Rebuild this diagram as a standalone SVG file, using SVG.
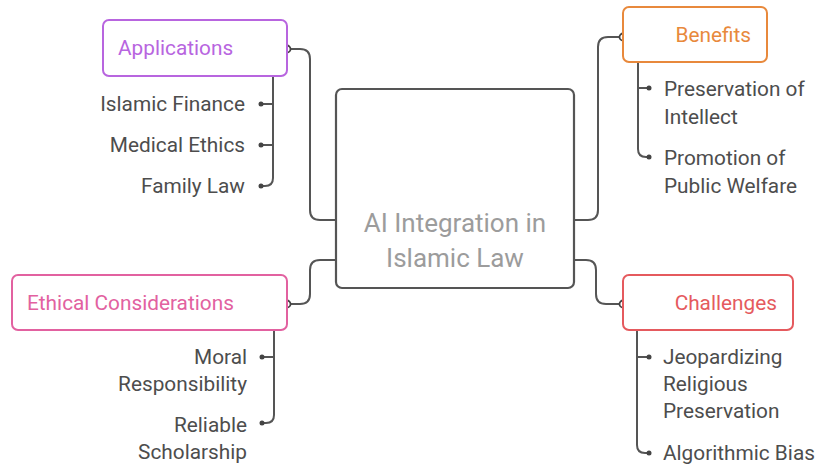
<svg xmlns="http://www.w3.org/2000/svg" width="818" height="466" viewBox="0 0 818 466">
  <style>
    text { font-family: Roboto, "Liberation Sans", sans-serif; font-size: 20.8px; }
    .box { fill: #ffffff; stroke-width: 2; }
    .item { fill: #4d4d4d; }
    .end { text-anchor: end; }
    .hubtext { font-size: 26px; fill: #9c9c9c; text-anchor: middle; }
    .line { fill: none; stroke: #555555; stroke-width: 2; }
    .port { fill: #ffffff; stroke: #444444; stroke-width: 1.8; }
    .tip { fill: #444444; }
  </style>

  <!-- connectors between the hub and each branch, and from each branch to its items -->
  <g id="connectors">
    <path class="line" d="M287,49 H300 Q310,49 310,59 V210 Q310,220 320,220 H336"/>
    <path class="line" d="M574,220 H588 Q598,220 598,210 V47 Q598,37 608,37 H623"/>
    <path class="line" d="M287,304 H300 Q310,304 310,294 V270 Q310,260 320,260 H336"/>
    <path class="line" d="M574,260 H586 Q596,260 596,270 V294 Q596,304 606,304 H623"/>

    <path class="line" d="M273,76 V178 Q273,186 265,186 H261 M273,104 H261 M273,145 H261"/>
    <path class="line" d="M638,62 V149 Q638,157 646,157 H649 M638,88 H649"/>
    <path class="line" d="M274,330 V415 Q274,423 266,423 H262 M274,357 H262"/>
    <path class="line" d="M637,330 V445 Q637,453 645,453 H649 M637,357 H649"/>

    <circle class="port" cx="287" cy="49" r="3.5"/>
    <circle class="port" cx="623" cy="37" r="3.5"/>
    <circle class="port" cx="287" cy="304" r="3.5"/>
    <circle class="port" cx="623" cy="304" r="3.5"/>

    <circle class="tip" cx="261" cy="104" r="2.5"/>
    <circle class="tip" cx="261" cy="145" r="2.5"/>
    <circle class="tip" cx="261" cy="186" r="2.5"/>
    <circle class="tip" cx="649" cy="88" r="2.5"/>
    <circle class="tip" cx="649" cy="157" r="2.5"/>
    <circle class="tip" cx="262" cy="357" r="2.5"/>
    <circle class="tip" cx="262" cy="423" r="2.5"/>
    <circle class="tip" cx="649" cy="357" r="2.5"/>
    <circle class="tip" cx="649" cy="453" r="2.5"/>
  </g>

  <!-- hub -->
  <g id="hub">
    <rect x="336" y="89" width="238" height="199" rx="6" fill="#ffffff" stroke="#555555" stroke-width="2.2"/>
    <text class="hubtext" x="455" y="232">AI Integration in</text>
    <text class="hubtext" x="455" y="267">Islamic Law</text>
  </g>

  <g id="applications">
    <rect class="box" x="103" y="20" width="184" height="56" rx="6" stroke="#b865df"/>
    <text x="118" y="55" fill="#b865df">Applications</text>
    <text class="item end" x="245" y="111">Islamic Finance</text>
    <text class="item end" x="245" y="152">Medical Ethics</text>
    <text class="item end" x="245" y="193">Family Law</text>
  </g>

  <g id="benefits">
    <rect class="box" x="623" y="7" width="144" height="55" rx="6" stroke="#e8893c"/>
    <text class="end" x="751" y="42" fill="#e8893c">Benefits</text>
    <text class="item" x="664" y="96">Preservation of</text>
    <text class="item" x="664" y="124">Intellect</text>
    <text class="item" x="664" y="165">Promotion of</text>
    <text class="item" x="664" y="193">Public Welfare</text>
  </g>

  <g id="ethical-considerations">
    <rect class="box" x="12" y="275" width="275" height="55" rx="6" stroke="#e261a0"/>
    <text x="27" y="310" fill="#e261a0">Ethical Considerations</text>
    <text class="item end" x="247" y="364">Moral</text>
    <text class="item end" x="247" y="391">Responsibility</text>
    <text class="item end" x="247" y="432">Reliable</text>
    <text class="item end" x="247" y="459">Scholarship</text>
  </g>

  <g id="challenges">
    <rect class="box" x="623" y="275" width="170" height="55" rx="6" stroke="#e55a5e"/>
    <text class="end" x="777" y="310" fill="#e55a5e">Challenges</text>
    <text class="item" x="663" y="364">Jeopardizing</text>
    <text class="item" x="663" y="391">Religious</text>
    <text class="item" x="663" y="418">Preservation</text>
    <text class="item" x="663" y="460">Algorithmic Bias</text>
  </g>
</svg>
